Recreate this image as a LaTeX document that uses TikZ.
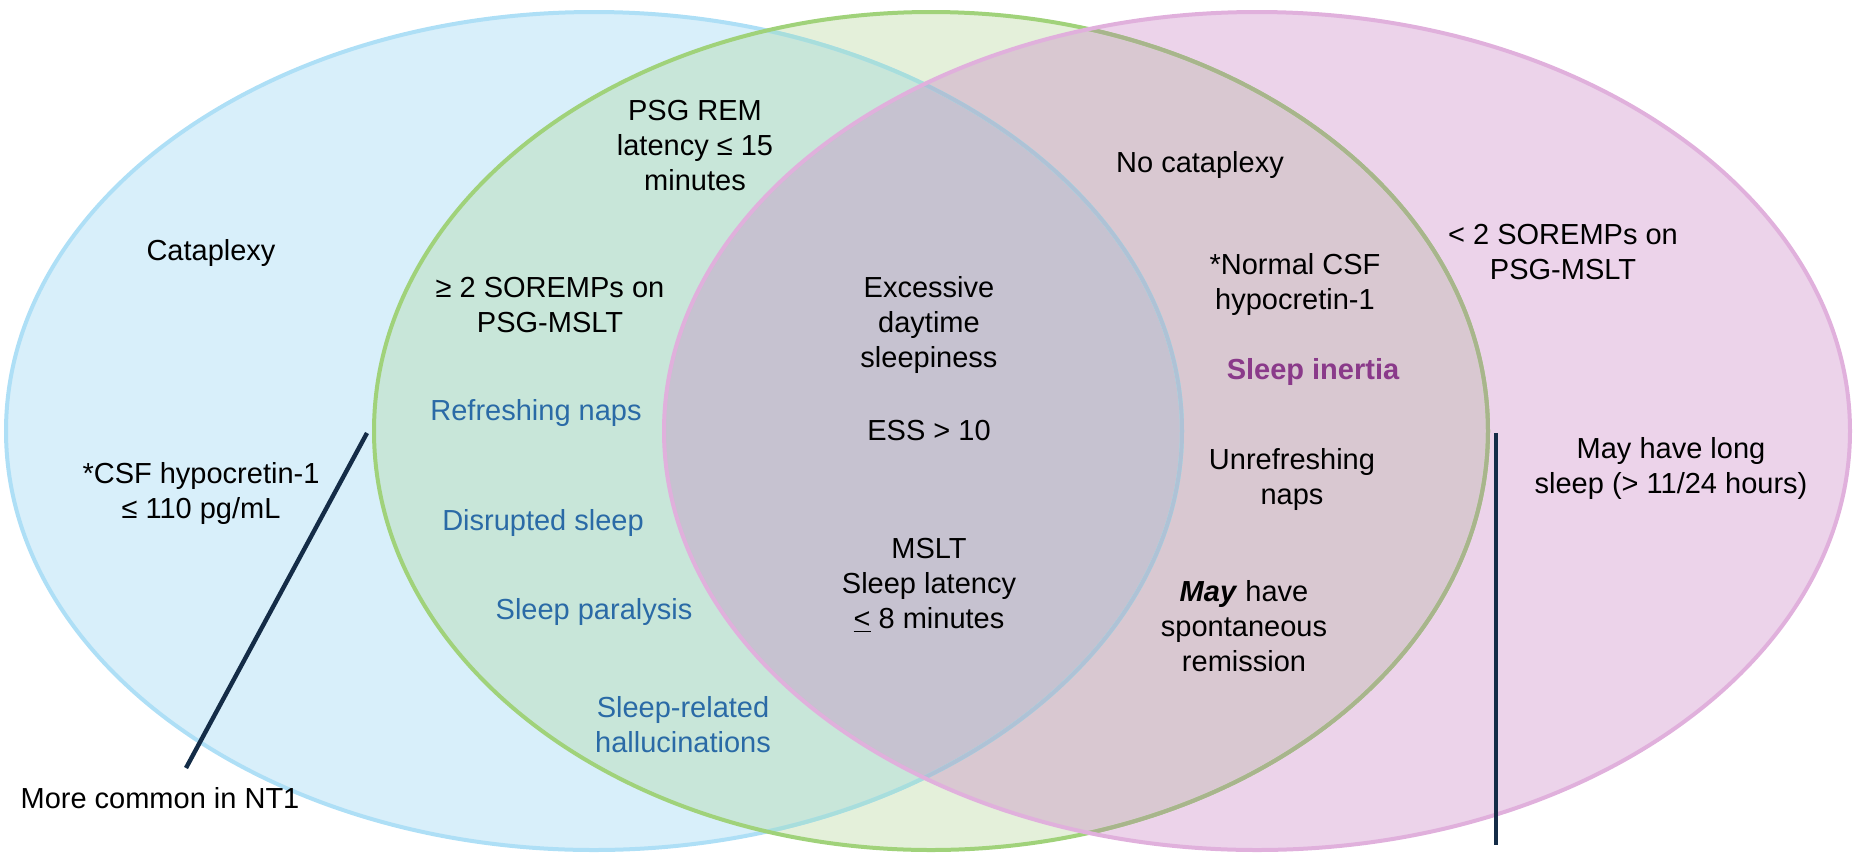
\documentclass[tikz,border=0pt]{standalone}
\usepackage{fontspec}
\setmainfont{Liberation Sans}
\definecolor{Bfill}{HTML}{D8EFFA}
\definecolor{Gfill}{HTML}{E4F0DA}
\definecolor{Pfill}{HTML}{ECD3EA}
\definecolor{BGfill}{HTML}{C8E6D9}
\definecolor{GPfill}{HTML}{D9C8D1}
\definecolor{BGPfill}{HTML}{C6C2D0}
\definecolor{Bline}{HTML}{AEDFF6}
\definecolor{BlineG}{HTML}{A8DEDC}
\definecolor{BlineP}{HTML}{AFC2D6}
\definecolor{Gline}{HTML}{A0D27A}
\definecolor{GlineP}{HTML}{A8B58C}
\definecolor{Pline}{HTML}{E0B0DC}
\definecolor{navy}{HTML}{142C47}
\definecolor{txtblue}{HTML}{2A6AA6}
\definecolor{txtpurple}{HTML}{8A3A8A}
\tikzset{
  lbl/.style={align=center, inner sep=1pt, font=\fontsize{14.5}{17.5}\selectfont},
  bluelbl/.style={lbl, text=txtblue},
  outl/.style={line width=2pt},
  pointer/.style={draw=navy, line width=2.2pt}
}
\begin{document}
\begin{tikzpicture}[x=0.5pt,y=-0.5pt]
\useasboundingbox (0,0) rectangle (1854,853);
\def\Bell{(594,431) ellipse [x radius=294pt, y radius=209.5pt]}
\def\Gell{(931,431) ellipse [x radius=278.5pt, y radius=209.5pt]}
\def\Pell{(1257,431) ellipse [x radius=296.5pt, y radius=209.5pt]}
% fills
\fill[Bfill] \Bell;
\fill[Gfill] \Gell;
\fill[Pfill] \Pell;
\begin{scope}\clip \Bell; \fill[BGfill] \Gell; \end{scope}
\begin{scope}\clip \Gell; \fill[GPfill] \Pell; \end{scope}
\begin{scope}\clip \Bell; \clip \Gell; \fill[BGPfill] \Pell; \end{scope}
% outlines
\draw[outl, Bline] \Bell;
\begin{scope}\clip \Gell; \draw[outl, BlineG] \Bell; \end{scope}
\begin{scope}\clip \Pell; \draw[outl, BlineP] \Bell; \end{scope}
\draw[outl, Gline] \Gell;
\begin{scope}\clip \Pell; \draw[outl, GlineP] \Gell; \end{scope}
\draw[outl, Pline] \Pell;
% labels
\node[lbl] (psgrem) at (695,146) {PSG REM\\latency ≤ 15\\minutes};
\node[lbl] (cataplexy) at (211,253) {Cataplexy};
\node[lbl] (soremps) at (550,305) {≥ 2 SOREMPs on\\PSG-MSLT};
\node[bluelbl] (refreshing) at (536,413) {Refreshing naps};
\node[lbl] (eds) at (929,325) {Excessive\\daytime\\sleepiness};
\node[lbl] (ess) at (929,431) {ESS > 10};
\node[lbl] (mslt) at (929,585) {MSLT\\Sleep latency\\\underline{<} 8 minutes};
\node[lbl] (csf) at (201,493) {*CSF hypocretin-1\\≤ 110 pg/mL};
\node[bluelbl] (disrupted) at (543,523) {Disrupted sleep};
\node[bluelbl] (paralysis) at (594,612) {Sleep paralysis};
\node[bluelbl] (halluc) at (683,725) {Sleep-related\\hallucinations};
\node[lbl] (nt1) at (160,798) {More common in NT1};
\node[lbl] (nocat) at (1200,165) {No cataplexy};
\node[lbl] (lt2) at (1563,252) {< 2 SOREMPs on\\PSG-MSLT};
\node[lbl] (normalcsf) at (1295,284) {*Normal CSF\\hypocretin-1};
\node[lbl, text=txtpurple, font=\fontsize{14.5}{17.5}\selectfont\bfseries] (inertia) at (1313,372) {Sleep inertia};
\node[lbl] (unref) at (1292,479) {Unrefreshing\\naps};
\node[lbl] (may) at (1244,626) {\textbf{\textit{May}} have\\spontaneous\\remission};
\node[lbl] (longsleep) at (1671,468) {May have long\\sleep (> 11/24 hours)};
% pointer lines
\coordinate (l1a) at (367,433);
\coordinate (l1b) at (186,768);
\coordinate (l2a) at (1496,433);
\coordinate (l2b) at (1496,845);
\draw[pointer] (l1a) -- (l1b);
\draw[pointer] (l2a) -- (l2b);
\end{tikzpicture}
\end{document}
